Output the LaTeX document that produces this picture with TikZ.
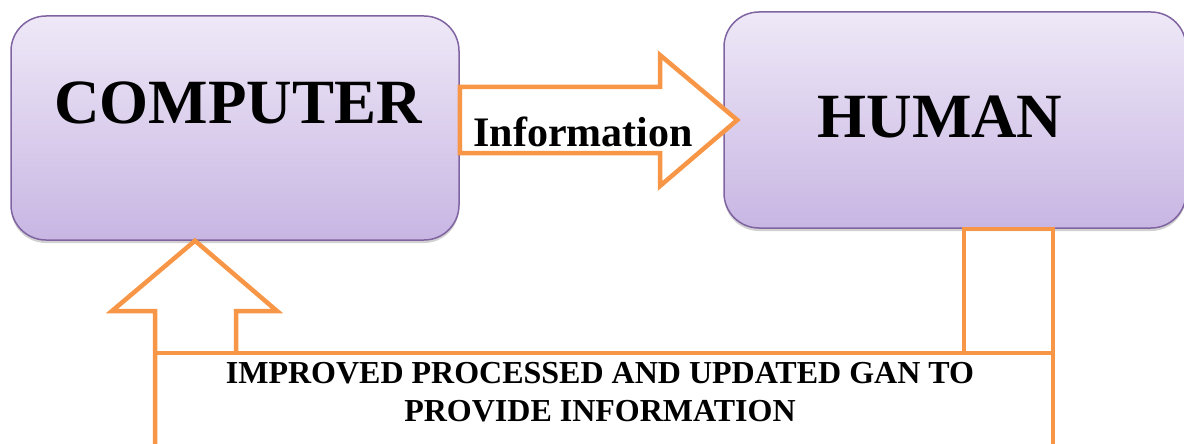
\documentclass[tikz,border=0pt]{standalone}
\usepackage{fontspec}
\setmainfont{Liberation Serif}
\usetikzlibrary{calc,shadows}

\definecolor{boxtop}{HTML}{EEE8F7}
\definecolor{boxbot}{HTML}{C8B6E3}
\definecolor{boxline}{HTML}{8064A2}
\definecolor{arrorange}{HTML}{F79646}

\tikzset{
  pcbox/.style={draw=boxline, line width=1.5pt, rounded corners=35pt,
    top color=boxtop, bottom color=boxbot,
    drop shadow={shadow xshift=0pt, shadow yshift=-3pt, opacity=0.3, fill=black!60}},
  bigtext/.style={font=\fontsize{63}{70}\selectfont\bfseries, inner sep=0pt},
  orangeline/.style={draw=arrorange, line width=4.5pt, line join=miter}
}

\begin{document}
\begin{tikzpicture}[x=1pt,y=-1pt]
\path[use as bounding box] (0,0) rectangle (1184,444);
\clip (0,0) rectangle (1184,444);

% the two boxes
\node[pcbox, minimum width=448pt, minimum height=224pt] (comp) at (235,128) {};
\node[pcbox, minimum width=462pt, minimum height=216pt] (human) at (955,120) {};
\node[bigtext, anchor=base] (comptext) at (238,123) {COMPUTER};
\node[bigtext, anchor=base] (humantext) at (940,137) {HUMAN};

% information arrow, computer to human
\coordinate (infotip) at ($(human.west)+(14,0)$);
\draw[orangeline, fill=white] (comp.east |- 0,87) -- (660,87) -- (660,55) -- (infotip)
  -- (660,186) -- (660,153) -- (comp.east |- 0,153) -- cycle;
\node[font=\fontsize{42}{48}\selectfont\bfseries, inner sep=0pt, anchor=base] (info) at (583,146) {Information};

% feedback arrow back up into the computer
\coordinate (uptip) at ($(comp.south)+(-40,0)$);
\draw[orangeline] (155,444) -- (155,311) -- (112,311) -- (uptip) -- (277,311) -- (236,311) -- (236,353);
\draw[orangeline] (155,353) -- (1053,353);
\draw[orangeline] (964,353) -- (human.south -| 964,0) -- (human.south -| 1053,0) -- (1053,444);

\node[font=\fontsize{32}{38}\selectfont\bfseries, align=center, inner sep=0pt, anchor=north] (gan) at (600,362)
  {IMPROVED PROCESSED AND UPDATED GAN TO\\PROVIDE INFORMATION};
\end{tikzpicture}
\end{document}
